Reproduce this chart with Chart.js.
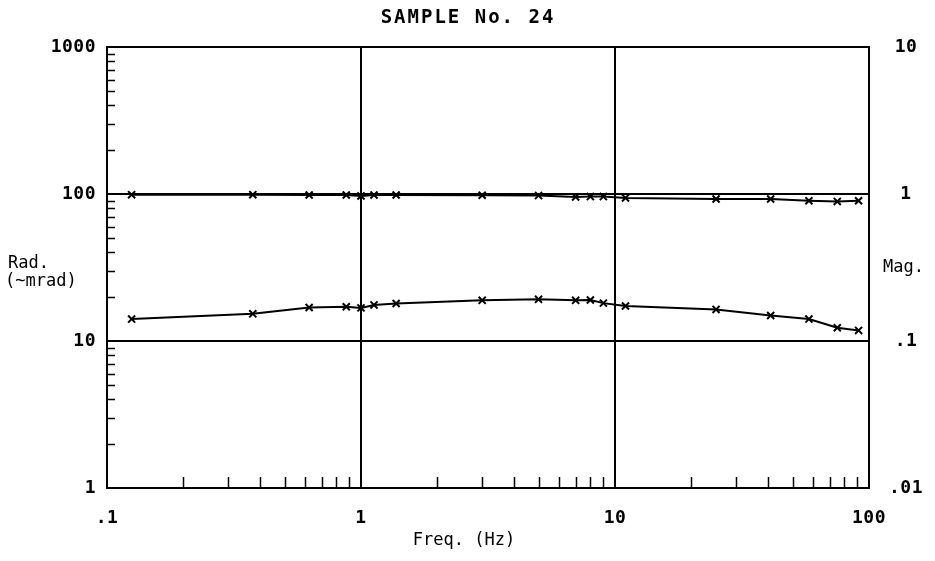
<!DOCTYPE html>
<html>
<head>
<meta charset="utf-8">
<script src="https://cdn.jsdelivr.net/npm/chart.js@4.4.1/dist/chart.umd.min.js"></script>
<style>
html,body{margin:0;padding:0;background:#fff;}
#wrap{width:935px;height:561px;position:relative;}
</style>
</head>
<body>
<div id="wrap"><canvas id="c" width="935" height="561"></canvas></div>
<script>
// ---- data ----
const chartTitle = 'SAMPLE No. 24';
const xAxisTitle = 'Freq. (Hz)';
const leftAxisTitle = ['Rad.', '(~mrad)'];
const rightAxisTitle = 'Mag.';

const freqHz   = [0.125, 0.375, 0.625, 0.875, 1.0, 1.125, 1.375, 3, 5, 7, 8, 9, 11, 25, 41, 58, 75, 91];
const radMrad  = [14.1, 15.3, 16.9, 17.1, 16.8, 17.6, 18.0, 18.9, 19.2, 18.9, 19.0, 18.1, 17.3, 16.4, 14.9, 14.1, 12.3, 11.8];
const magnitude = [0.99, 0.99, 0.985, 0.985, 0.97, 0.985, 0.985, 0.98, 0.975, 0.955, 0.96, 0.96, 0.94, 0.925, 0.925, 0.90, 0.89, 0.90];

const xDecades = [0.1, 1, 10, 100];
const xDecadeLabels = ['.1', '1', '10', '100'];
const leftDecades = [1, 10, 100, 1000];
const leftDecadeLabels = ['1', '10', '100', '1000'];
const rightDecades = [0.01, 0.1, 1, 10];
const rightDecadeLabels = ['.01', '.1', '1', '10'];
const xGridAt = [1, 10];
const leftGridAt = [10, 100];

function minorValues(decades) {
  const out = [];
  for (let i = 0; i < decades.length - 1; i++) {
    for (let m = 2; m <= 9; m++) out.push(Number((decades[i] * m).toPrecision(6)));
  }
  return out;
}
const xMinor = minorValues(xDecades);
const leftMinor = minorValues(leftDecades);

function labelFor(v, vals, labels) {
  for (let i = 0; i < vals.length; i++) {
    if (Math.abs(v - vals[i]) / vals[i] < 1e-6) return labels[i];
  }
  return '';
}
function isIn(v, arr) {
  return arr.some(a => Math.abs(v - a) / a < 1e-6);
}

const FONT_FAMILY = '"DejaVu Sans Mono", "Liberation Mono", monospace';
const tickFont = {family: FONT_FAMILY, size: 18, weight: 'bold'};
const SPACING = '0.5px';

const decor = {
  id: 'decor',
  beforeUpdate(chart) { chart.ctx.letterSpacing = SPACING; },
  beforeDraw(chart) {
    const ctx = chart.ctx;
    ctx.save();
    ctx.fillStyle = '#fff';
    ctx.fillRect(0, 0, chart.width, chart.height);
    ctx.restore();
    ctx.letterSpacing = SPACING;
  },
  afterDraw(chart) {
    const ctx = chart.ctx;
    const a = chart.chartArea;
    const xs = chart.scales.x, ys = chart.scales.y;
    ctx.save();
    ctx.strokeStyle = '#000';
    ctx.lineWidth = 2;
    // top frame
    ctx.beginPath();
    ctx.moveTo(a.left - 1, a.top);
    ctx.lineTo(a.right + 1, a.top);
    ctx.stroke();
    // inward minor ticks on left axis
    ctx.lineWidth = 1.5;
    ctx.beginPath();
    leftMinor.forEach(v => {
      const y = Math.round(ys.getPixelForValue(v)) + 0.5;
      ctx.moveTo(a.left, y);
      ctx.lineTo(a.left + 8, y);
    });
    // inward minor ticks on bottom axis
    xMinor.forEach(v => {
      const x = Math.round(xs.getPixelForValue(v)) + 0.5;
      ctx.moveTo(x, a.bottom);
      ctx.lineTo(x, a.bottom - 11);
    });
    ctx.stroke();
    // texts
    ctx.fillStyle = '#000';
    ctx.textBaseline = 'middle';
    ctx.letterSpacing = '2px';
    ctx.font = 'bold 19px ' + FONT_FAMILY;
    ctx.textAlign = 'center';
    ctx.fillText(chartTitle, 468, 18);
    ctx.letterSpacing = '0px';
    ctx.font = '17px ' + FONT_FAMILY;
    ctx.fillText(xAxisTitle, 464, 541);
    ctx.textAlign = 'left';
    ctx.fillText(leftAxisTitle[0], 8, 264);
    ctx.fillText(leftAxisTitle[1], 5, 282);
    ctx.fillText(rightAxisTitle, 883, 268);
    ctx.restore();
  }
};

const lineStyle = {
  borderColor: '#000',
  backgroundColor: '#000',
  borderWidth: 2,
  pointStyle: 'crossRot',
  pointRadius: 5,
  pointBorderWidth: 2,
  pointBorderColor: '#000',
  tension: 0,
  fill: false
};

new Chart(document.getElementById('c'), {
  type: 'line',
  data: {
    datasets: [
      Object.assign({label: 'Mag.', yAxisID: 'y1',
        data: freqHz.map((f, i) => ({x: f, y: magnitude[i]}))}, lineStyle),
      Object.assign({label: 'Rad.', yAxisID: 'y',
        data: freqHz.map((f, i) => ({x: f, y: radMrad[i]}))}, lineStyle)
    ]
  },
  options: {
    responsive: false,
    animation: false,
    devicePixelRatio: 1,
    layout: {padding: {top: 47, left: 0, right: 0, bottom: 0}},
    plugins: {legend: {display: false}, tooltip: {enabled: false}, title: {display: false}},
    scales: {
      x: {
        type: 'logarithmic', position: 'bottom', min: 0.1, max: 100,
        afterBuildTicks: s => { s.ticks = xDecades.concat(xMinor).sort((p, q) => p - q).map(v => ({value: v})); },
        afterFit: s => { s.height = 73; },
        ticks: {autoSkip: false, maxRotation: 0, minRotation: 0, padding: 20, color: '#000', font: tickFont,
          callback: v => labelFor(v, xDecades, xDecadeLabels)},
        grid: {drawTicks: false, lineWidth: 2,
          color: c => (c.tick && isIn(c.tick.value, xGridAt)) ? '#000' : 'rgba(0,0,0,0)'},
        border: {display: true, color: '#000', width: 2}
      },
      y: {
        type: 'logarithmic', position: 'left', min: 1, max: 1000,
        afterBuildTicks: s => { s.ticks = leftDecades.concat(leftMinor).sort((p, q) => p - q).map(v => ({value: v})); },
        afterFit: s => { s.width = 107; },
        ticks: {autoSkip: false, padding: 11, color: '#000', font: tickFont,
          callback: v => labelFor(v, leftDecades, leftDecadeLabels)},
        grid: {drawTicks: false, lineWidth: 2,
          color: c => (c.tick && isIn(c.tick.value, leftGridAt)) ? '#000' : 'rgba(0,0,0,0)'},
        border: {display: true, color: '#000', width: 2}
      },
      y1: {
        type: 'logarithmic', position: 'right', min: 0.01, max: 10,
        afterBuildTicks: s => { s.ticks = rightDecades.map(v => ({value: v})); },
        afterFit: s => { s.width = 66; },
        ticks: {autoSkip: false, padding: 20, crossAlign: 'center', color: '#000', font: tickFont,
          callback: v => labelFor(v, rightDecades, rightDecadeLabels)},
        grid: {display: false, drawTicks: false},
        border: {display: true, color: '#000', width: 2}
      }
    }
  },
  plugins: [decor]
});
</script>
</body>
</html>
